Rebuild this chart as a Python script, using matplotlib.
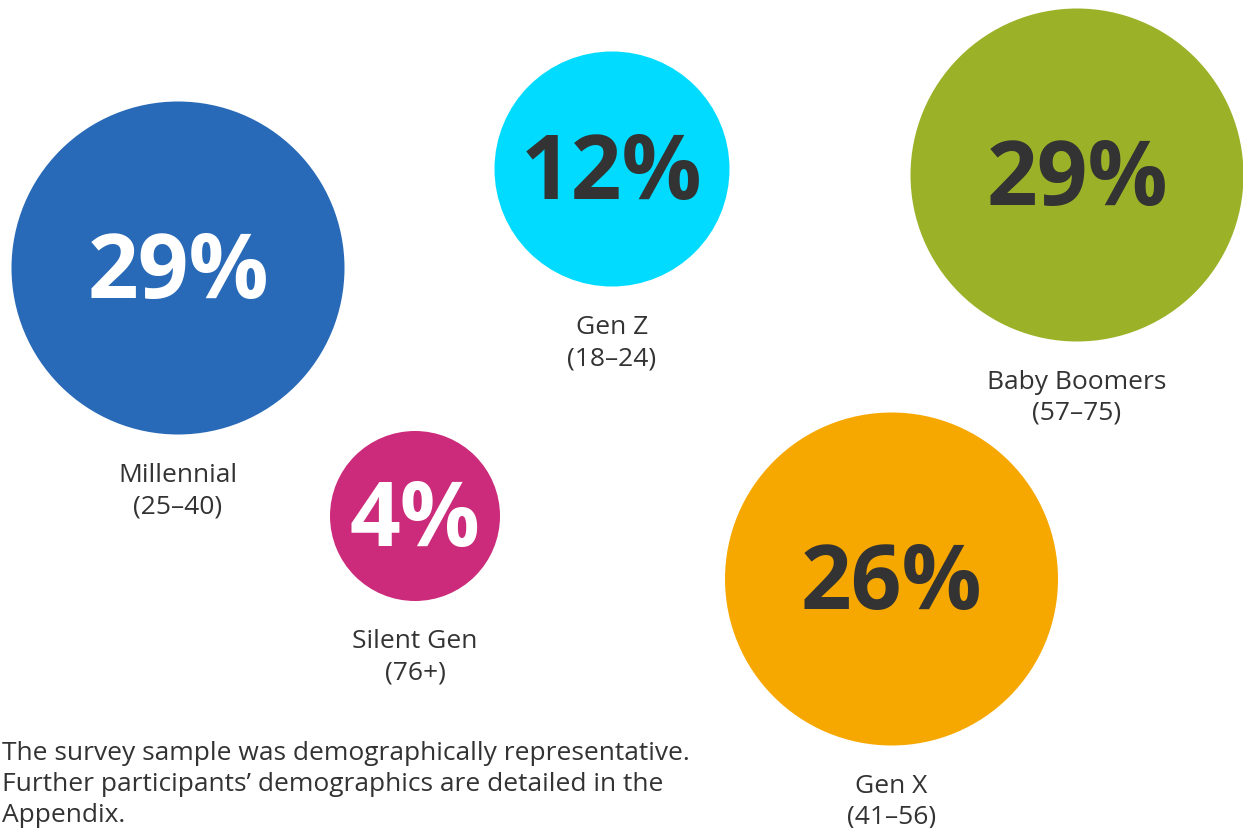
import matplotlib
matplotlib.use("Agg")
import matplotlib.pyplot as plt
from matplotlib.patches import Circle

# data
generations = ["Millennial", "Gen Z", "Baby Boomers", "Silent Gen", "Gen X"]
age_ranges = ["(25\u201340)", "(18\u201324)", "(57\u201375)", "(76+)", "(41\u201356)"]
shares = [29, 12, 29, 4, 26]

# layout (pixel coords of the 1243x829 canvas)
centers_x = [178, 612, 1077, 415, 891.5]
centers_y = [269, 170, 176, 517, 580]
radii = [166.5, 117.5, 166.5, 85, 166.5]
colors = ["#286ab7", "#00dbff", "#9bb228", "#cc2a7a", "#f7a800"]
text_colors = ["white", "#333333", "#333333", "white", "#333333"]

note_lines = ["The survey sample was demographically representative.",
              "Further participants\u2019 demographics are detailed in the",
              "Appendix."]

plt.rcParams['font.family'] = ['Open Sans', 'DejaVu Sans']

fig = plt.figure(figsize=(12.43, 8.29), dpi=100)
ax = fig.add_axes([0, 0, 1, 1])
ax.set_xlim(0, 1243)
ax.set_ylim(829, 0)
ax.set_aspect('equal')
ax.axis('off')

for i in range(len(generations)):
    cx, cy, r = centers_x[i], centers_y[i], radii[i]
    ax.add_patch(Circle((cx, cy), r, color=colors[i], lw=0))
    ax.text(cx, cy + 29, f"{shares[i]}%", ha='center', va='baseline',
            fontsize=64, fontweight='bold', color=text_colors[i])
    # two label lines under the bubble
    ax.text(cx, cy + r + 40, generations[i], ha='center', va='center',
            fontsize=19, color='#333333')
    ax.text(cx, cy + r + 71, age_ranges[i], ha='center', va='center',
            fontsize=19, color='#333333')

for k, line in enumerate(note_lines):
    ax.text(2, 754 + 31 * k, line, ha='left', va='center', fontsize=19,
            color='#333333')

fig.savefig("out.png", dpi=100)
